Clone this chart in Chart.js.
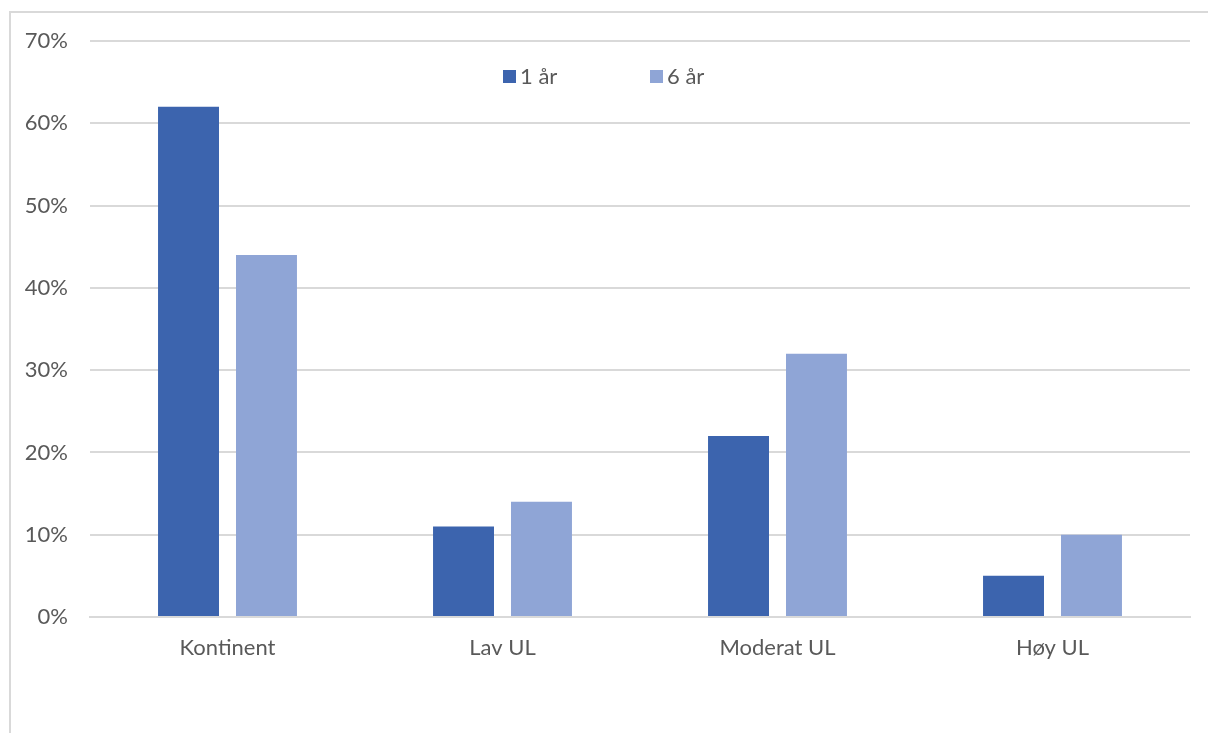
<!DOCTYPE html>
<html lang="no">
<head>
<meta charset="utf-8">
<title>Andel per kategori</title>
<script src="https://cdn.jsdelivr.net/npm/chart.js@4/dist/chart.umd.min.js"></script>
<style>
  html, body { margin: 0; padding: 0; background: #ffffff; }
  #wrap { position: relative; width: 1208px; height: 733px; }
  #frame {
    position: absolute; left: 9px; top: 11px; right: 0; bottom: 0;
    border-left: 2px solid #d9d9d9; border-top: 2px solid #d9d9d9;
    pointer-events: none;
  }
  canvas { display: block; }
</style>
</head>
<body>
<div id="wrap">
  <canvas id="chart" width="1208" height="733"></canvas>
  <div id="frame"></div>
</div>
<script>
// Kategorier og verdier (prosent)
const categories = ['Kontinent', 'Lav UL', 'Moderat UL', 'Høy UL'];
const seriesNames = ['1 år', '6 år'];
const values1yr = [62, 11, 22, 5];
const values6yr = [44, 14, 32, 10];
const yTicks = [0, 10, 20, 30, 40, 50, 60, 70];

const textColor = '#595959';
const fontFamily = "Lato, 'Open Sans', 'Liberation Sans', sans-serif";
const fontSize = 22;

// Forklaring tegnet inne i plottet, sentrert over hele figuren
const innerLegend = {
  id: 'innerLegend',
  afterDraw(chart) {
    const ctx = chart.ctx;
    const ds = chart.data.datasets;
    const starts = [503, 650];
    ctx.save();
    ctx.font = `${fontSize}px ${fontFamily}`;
    ctx.textBaseline = 'middle';
    ds.forEach((d, i) => {
      const x = starts[i];
      const y = 77;
      ctx.fillStyle = d.backgroundColor;
      ctx.fillRect(x, y - 7, 13, 13);
      ctx.fillStyle = textColor;
      ctx.fillText(d.label, x + 17, y);
    });
    ctx.restore();
  }
};

new Chart(document.getElementById('chart'), {
  type: 'bar',
  data: {
    labels: categories,
    datasets: [
      { label: seriesNames[0], data: values1yr, backgroundColor: '#3c64ae' },
      { label: seriesNames[1], data: values6yr, backgroundColor: '#8fa5d6' }
    ]
  },
  options: {
    responsive: false,
    animation: false,
    devicePixelRatio: 1,
    layout: { padding: { left: 0, right: 18, top: 41, bottom: 0 } },
    datasets: { bar: { categoryPercentage: 0.567, barPercentage: 0.782 } },
    plugins: {
      legend: { display: false },
      tooltip: { enabled: false }
    },
    scales: {
      x: {
        grid: { display: false, drawTicks: false },
        border: { display: true, color: '#d9d9d9', width: 2 },
        ticks: { color: textColor, font: { family: fontFamily, size: fontSize }, padding: 18 },
        afterFit(scale) { scale.height = 116; }
      },
      y: {
        min: 0, max: 70,
        afterBuildTicks(scale) { scale.ticks = yTicks.map(v => ({ value: v })); },
        grid: { color: '#d9d9d9', lineWidth: 2, drawTicks: false },
        border: { display: false },
        ticks: {
          color: textColor,
          font: { family: fontFamily, size: fontSize },
          padding: 22,
          callback: v => v + '%'
        },
        afterFit(scale) { scale.width = 90; }
      }
    }
  },
  plugins: [innerLegend]
});
</script>
</body>
</html>
